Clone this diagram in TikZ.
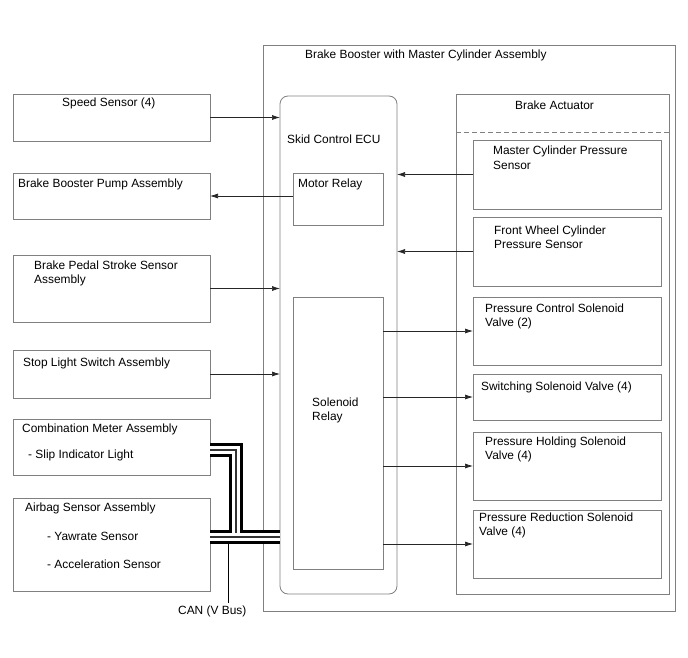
\documentclass[tikz,border=0pt]{standalone}
\usepackage{fontspec}
\setmainfont{Liberation Sans}
\usetikzlibrary{arrows.meta}
\begin{document}
\begin{tikzpicture}[x=1pt,y=-1pt,
  box/.style={draw=black!50, line width=0.8pt, inner sep=0pt, outer sep=0pt, anchor=north west},
  lbl/.style={anchor=base west, inner sep=0pt, font=\fontsize{11.9}{14}\selectfont},
  arr/.style={draw=black!85, line width=0.7pt, -{Latex[length=8pt,width=5pt]}},
  busouter/.style={line width=14pt, black, line join=miter},
  businner/.style={line width=7.5pt, white, line join=miter},
  buscore/.style={line width=1.5pt, black!80, line join=miter}]
\useasboundingbox (0,0) rectangle (688,658);
% outer assembly
\node[box, minimum width=412pt, minimum height=566pt] (outer) at (263,45) {};
\node[lbl] (outerlbl) at (305,59) {Brake Booster with Master Cylinder Assembly};
% ECU
\node[box, rounded corners=8pt, minimum width=117pt, minimum height=498pt] (ecu) at (280,96) {};
\node[lbl] (eculbl) at (287,144) {Skid Control ECU};
\node[box, minimum width=90pt, minimum height=52pt] (motor) at (293,173) {};
\node[lbl] (motorlbl) at (298,187) {Motor Relay};
\node[box, minimum width=90pt, minimum height=272pt] (solen) at (293,297) {};
\node[lbl] (solenlbl1) at (312,406) {Solenoid};
\node[lbl] (solenlbl2) at (312,420) {Relay};
% actuator
\node[box, minimum width=213pt, minimum height=500pt] (act) at (456,94) {};
\node[lbl] (actlbl) at (515,110) {Brake Actuator};
\draw[draw=black!50, line width=0.8pt, dash pattern=on 5pt off 3pt] ([yshift=-38pt]act.north west) -- ([yshift=-38pt]act.north east);
\node[box, minimum width=188pt, minimum height=69pt] (mcps) at (473,140) {};
\node[lbl] (mcps1) at (493,155) {Master Cylinder Pressure};
\node[lbl] (mcps2) at (493,169) {Sensor};
\node[box, minimum width=188pt, minimum height=69pt] (fwcps) at (473,217) {};
\node[lbl] (fwcps1) at (494,234) {Front Wheel Cylinder};
\node[lbl] (fwcps2) at (494,248) {Pressure Sensor};
\node[box, minimum width=188pt, minimum height=68pt] (pcsv) at (473,297) {};
\node[lbl] (pcsv1) at (485,312) {Pressure Control Solenoid};
\node[lbl] (pcsv2) at (485,326) {Valve (2)};
\node[box, minimum width=188pt, minimum height=46pt] (ssv) at (473,374) {};
\node[lbl] (ssv1) at (481,390) {Switching Solenoid Valve (4)};
\node[box, minimum width=188pt, minimum height=68pt] (phsv) at (473,432) {};
\node[lbl] (phsv1) at (485,445) {Pressure Holding Solenoid};
\node[lbl] (phsv2) at (485,459) {Valve (4)};
\node[box, minimum width=188pt, minimum height=68pt] (prsv) at (473,510) {};
\node[lbl] (prsv1) at (479,521) {Pressure Reduction Solenoid};
\node[lbl] (prsv2) at (479,535) {Valve (4)};
% left boxes
\node[box, minimum width=197pt, minimum height=47pt] (speed) at (13,94) {};
\node[lbl] (speedlbl) at (62,107) {Speed Sensor (4)};
\node[box, minimum width=197pt, minimum height=46pt] (pump) at (13,173) {};
\node[lbl] (pumplbl) at (18,187) {Brake Booster Pump Assembly};
\node[box, minimum width=197pt, minimum height=67pt] (pedal) at (13,255) {};
\node[lbl] (pedal1) at (34,269) {Brake Pedal Stroke Sensor};
\node[lbl] (pedal2) at (34,283) {Assembly};
\node[box, minimum width=197pt, minimum height=48pt] (stop) at (13,350) {};
\node[lbl] (stoplbl) at (23,366) {Stop Light Switch Assembly};
\node[box, minimum width=197pt, minimum height=56pt] (meter) at (13,419) {};
\node[lbl] (meter1) at (22,432) {Combination Meter Assembly};
\node[lbl] (meter2) at (28,458) {- Slip Indicator Light};
\node[box, minimum width=197pt, minimum height=93pt] (airbag) at (13,498) {};
\node[lbl] (airbag1) at (25,511) {Airbag Sensor Assembly};
\node[lbl] (airbag2) at (47,540) {- Yawrate Sensor};
\node[lbl] (airbag3) at (47,568) {- Acceleration Sensor};
% arrows
\draw[arr] (speed.east) -- (speed.east -| ecu.west);
\draw[arr] (motor.west |- pump.east) -- (pump.east);
\draw[arr] (pedal.east) -- (pedal.east -| ecu.west);
\draw[arr] (stop.east) -- (stop.east -| ecu.west);
\draw[arr] (mcps.west) -- (mcps.west -| ecu.east);
\draw[arr] (fwcps.west) -- (fwcps.west -| ecu.east);
\draw[arr] (pcsv.west -| solen.east) -- (pcsv.west);
\draw[arr] (ssv.west -| solen.east) -- (ssv.west);
\draw[arr] (phsv.west -| solen.east) -- (phsv.west);
\draw[arr] (prsv.west -| solen.east) -- (prsv.west);
% CAN bus
\coordinate (ja) at (236,537);
\coordinate (jm) at ([yshift=-3pt]meter.east);
\coordinate (canj) at (228,544);
\draw[busouter] (jm) -- (jm -| ja) -- (ja);
\draw[busouter] (airbag.east |- ja) -- (ecu.west |- ja);
\draw[businner] (jm) -- (jm -| ja) -- (ja);
\draw[businner] (airbag.east |- ja) -- (ecu.west |- ja);
\draw[buscore] (airbag.east |- ja) -- (ecu.west |- ja);
\draw[buscore, shorten >=3.75pt] (jm) -- (jm -| ja) -- (ja);
\node[lbl] (can) at (178,614) {CAN (V Bus)};
\draw[line width=0.8pt, shorten >=2pt] (canj) -- (canj |- can.north);
\end{tikzpicture}
\end{document}
